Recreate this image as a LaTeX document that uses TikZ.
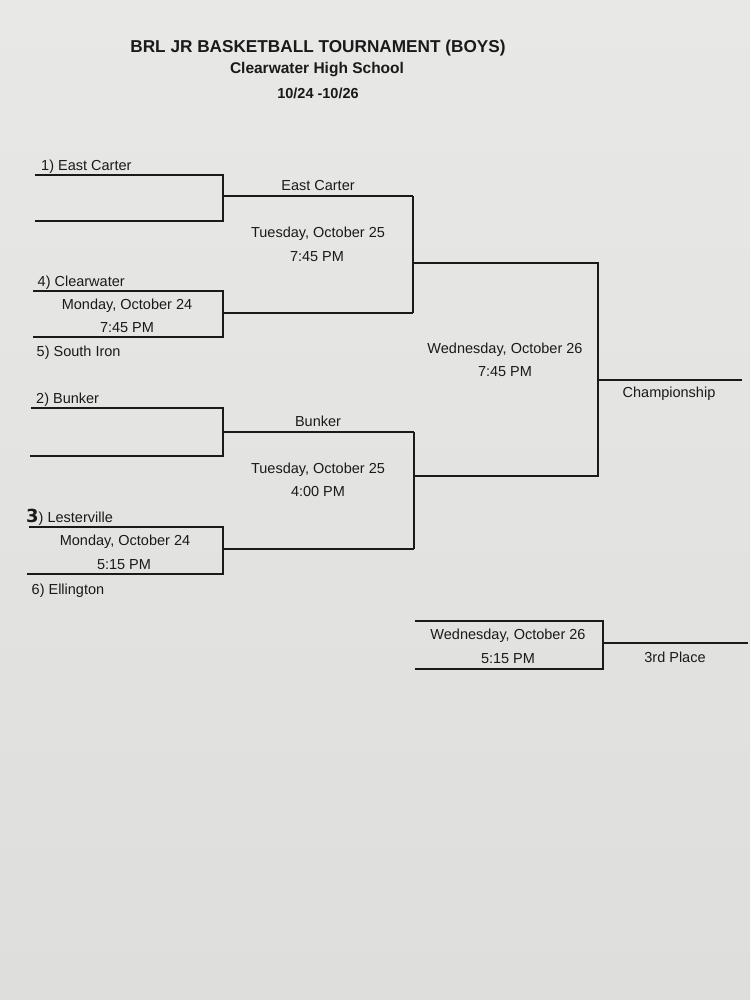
\documentclass[tikz,border=0pt]{standalone}
\usepackage{fontspec}
\setmainfont{Liberation Sans}
\newfontfamily\handfont{DejaVu Sans}
\definecolor{papertop}{RGB}{232,232,230}
\definecolor{paperbot}{RGB}{222,222,220}
\definecolor{ink}{RGB}{26,26,26}
\begin{document}
\begin{tikzpicture}[x=1pt,y=-1pt,
  lbl/.style={anchor=base west,inner sep=0pt,text=ink,font=\fontsize{14.5}{17}\selectfont},
  ctr/.style={anchor=base,inner sep=0pt,text=ink,font=\fontsize{14.5}{17}\selectfont},
  ttl/.style={anchor=base,inner sep=0pt,text=ink,font=\bfseries\fontsize{17.2}{20}\selectfont},
  sub/.style={anchor=base,inner sep=0pt,text=ink,font=\bfseries\fontsize{15.5}{18}\selectfont},
  bline/.style={draw=ink,line width=1.5pt,line join=miter}]
\useasboundingbox (0,0) rectangle (750,1000);
\shade[top color=papertop,bottom color=paperbot] (0,0) rectangle (750,1000);

% titles
\node[ttl] (title) at (318,53) {BRL JR BASKETBALL TOURNAMENT (BOYS)};
\node[sub] (school) at (317,74) {Clearwater High School};
\node[sub,font=\bfseries\fontsize{14.5}{17}\selectfont] (dates) at (318,99) {10/24 -10/26};

% coordinates
\coordinate (a1) at (35,175); \coordinate (a2) at (223,175);
\coordinate (a3) at (223,221); \coordinate (a4) at (35,221);
\coordinate (a5) at (223,196); \coordinate (s1a) at (413,196);
\coordinate (b1) at (33,291); \coordinate (b2) at (223,291);
\coordinate (b3) at (223,337); \coordinate (b4) at (33,337);
\coordinate (b5) at (223,313); \coordinate (s1b) at (413,313);
\coordinate (s1m) at (413,263); \coordinate (f1) at (598,263);
\coordinate (f2) at (598,476); \coordinate (s2m) at (414,476);
\coordinate (fm) at (598,380); \coordinate (ch) at (742,380);
\coordinate (c1) at (31,408); \coordinate (c2) at (223,408);
\coordinate (c3) at (223,456); \coordinate (c4) at (30,456);
\coordinate (c5) at (223,432); \coordinate (s2a) at (414,432);
\coordinate (d1) at (29,527); \coordinate (d2) at (223,527);
\coordinate (d3) at (223,574); \coordinate (d4) at (27,574);
\coordinate (d5) at (223,549); \coordinate (s2b) at (414,549);
\coordinate (e1) at (415,621); \coordinate (e2) at (603,621);
\coordinate (e3) at (603,669); \coordinate (e4) at (415,669);
\coordinate (e5) at (603,643); \coordinate (tp) at (748,643);

% bracket lines
\draw[bline] (a1) -- (a2) -- (a3) -- (a4);
\draw[bline] (a5) -- (s1a);
\draw[bline] (b1) -- (b2) -- (b3) -- (b4);
\draw[bline] (b5) -- (s1b);
\draw[bline] (s1a) -- (s1b);
\draw[bline] (s1m) -- (f1) -- (f2) -- (s2m);
\draw[bline] (fm) -- (ch);
\draw[bline] (c1) -- (c2) -- (c3) -- (c4);
\draw[bline] (c5) -- (s2a);
\draw[bline] (d1) -- (d2) -- (d3) -- (d4);
\draw[bline] (d5) -- (s2b);
\draw[bline] (s2a) -- (s2b);
\draw[bline] (e1) -- (e2) -- (e3) -- (e4);
\draw[bline] (e5) -- (tp);

% team labels
\node[lbl] (t1) at (41,171) {1) East Carter};
\node[lbl] (t4) at (37.5,286) {4) Clearwater};
\node[lbl] (t5) at (36.5,356) {5) South Iron};
\node[lbl] (t2) at (36,403) {2) Bunker};
\node[lbl] (t3) at (26,522) {{\handfont\bfseries\fontsize{18}{18}\selectfont 3})~Lesterville};
\node[lbl] (t6) at (31.5,594) {6) Ellington};

% game labels
\node[ctr] (g1d) at (127,309) {Monday, October 24};
\node[ctr] (g1t) at (127,332) {7:45 PM};
\node[ctr] (g2d) at (125,545) {Monday, October 24};
\node[ctr] (g2t) at (124,569) {5:15 PM};
\node[ctr] (w1) at (318,191) {East Carter};
\node[ctr] (s1d) at (318,237) {Tuesday, October 25};
\node[ctr] (s1t) at (317,261) {7:45 PM};
\node[ctr] (w2) at (318,426) {Bunker};
\node[ctr] (s2d) at (318,473) {Tuesday, October 25};
\node[ctr] (s2t) at (318,496) {4:00 PM};
\node[ctr] (fd) at (505,353) {Wednesday, October 26};
\node[ctr] (ft) at (505,376) {7:45 PM};
\node[ctr] (chl) at (669,397) {Championship};
\node[ctr] (td) at (508,639) {Wednesday, October 26};
\node[ctr] (tt) at (508,663) {5:15 PM};
\node[ctr] (tpl) at (675,662) {3rd Place};
\end{tikzpicture}
\end{document}
